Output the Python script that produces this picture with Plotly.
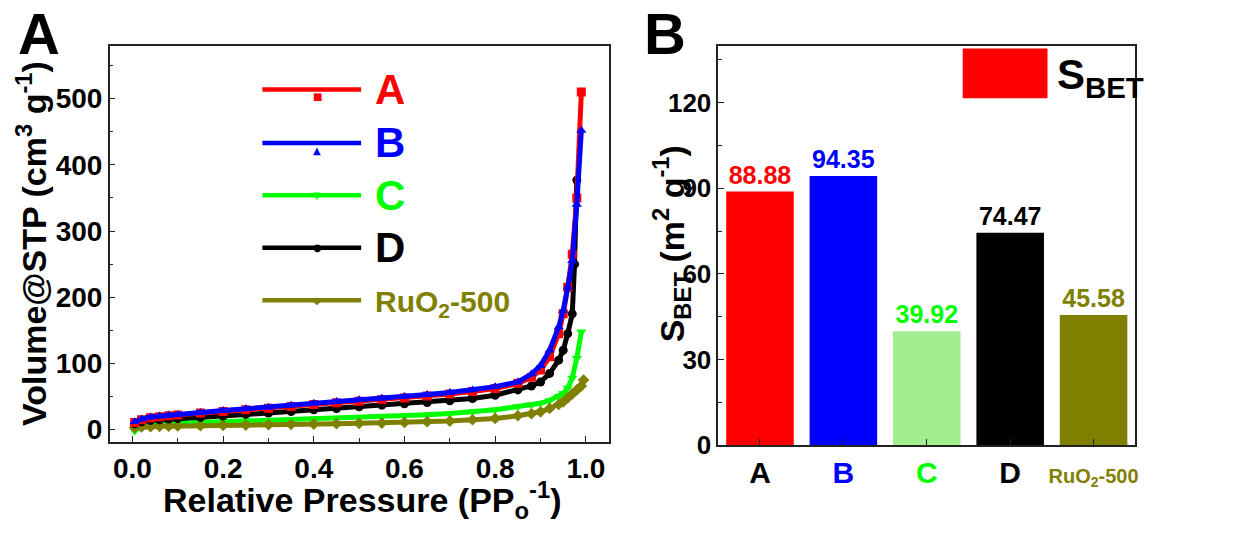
import plotly.graph_objects as go

W, H = 1256, 535
FONT = "Liberation Sans, Arial, sans-serif"
NARROW = "Liberation Sans Narrow, Arial Narrow, Liberation Sans, Arial, sans-serif"

# ---------------- data: N2 isotherms (panel A) ----------------
p_AB = [0.005, 0.02, 0.04, 0.06, 0.08, 0.10, 0.15, 0.20, 0.25, 0.30, 0.35, 0.40, 0.45, 0.50,
        0.55, 0.60, 0.65, 0.70, 0.75, 0.80, 0.85, 0.88, 0.90, 0.92, 0.94, 0.95, 0.96, 0.97,
        0.98, 0.99]
vol_A = [11, 15, 18, 19.5, 21, 22, 25, 27.5, 30, 32.5, 35, 38, 40.5, 43,
         45.5, 48, 51, 54, 57.5, 62, 70, 79, 90, 110, 145, 175, 215, 265,
         350, 510]
vol_B = [12, 16, 19, 20.5, 22, 23, 26, 29, 31.5, 34, 37, 40, 42.5, 45,
         47.5, 50, 53, 56, 60, 65, 72, 84, 97, 120, 155, 180, 215, 255,
         340, 452]
p_D = [0.005, 0.02, 0.04, 0.06, 0.08, 0.10, 0.15, 0.20, 0.25, 0.30, 0.35, 0.40, 0.45, 0.50,
       0.55, 0.60, 0.65, 0.70, 0.75, 0.80, 0.85, 0.88, 0.90, 0.92, 0.94, 0.95, 0.96, 0.97,
       0.975, 0.98]
vol_D = [9, 12, 14, 15, 16, 17, 18.5, 20.5, 23, 25, 27.5, 30, 32, 34.5,
         37, 39, 41, 43.5, 47, 52, 60, 66, 72, 85, 105, 120, 145, 175,
         250, 377]
p_C = [0.005, 0.02, 0.04, 0.06, 0.08, 0.10, 0.15, 0.20, 0.25, 0.30, 0.35, 0.40, 0.45, 0.50,
       0.55, 0.60, 0.65, 0.70, 0.75, 0.80, 0.85, 0.88, 0.90, 0.92, 0.94, 0.95, 0.96, 0.97,
       0.98, 0.99]
vol_C = [-2, 5, 7, 8, 9, 10, 11, 12, 13, 14, 15, 16, 17, 18,
         19.5, 20.5, 22.5, 24.5, 27, 30, 35, 38, 40, 44, 50, 55, 63, 78,
         108, 148]
p_R = [0.005, 0.02, 0.04, 0.06, 0.08, 0.10, 0.15, 0.20, 0.25, 0.30, 0.35, 0.40, 0.45, 0.50,
       0.55, 0.60, 0.65, 0.70, 0.75, 0.80, 0.85, 0.88, 0.90, 0.92, 0.94, 0.95, 0.96, 0.97,
       0.98, 0.99, 0.995]
vol_R = [3, 4, 4.5, 5, 5.2, 5.5, 6, 6.5, 7, 7.5, 8, 8.5, 9, 9.5,
         10, 11, 12, 13, 15, 17, 21, 24, 27, 32, 38, 42, 48, 54,
         60, 66, 75]

# ---------------- data: BET surface area (panel B) ----------------
samples = ["A", "B", "C", "D", "RuO2-500"]
sbet = [88.88, 94.35, 39.92, 74.47, 45.58]
sample_labels = ["A", "<span style='color:#0000FF'>B</span>", "<span style='color:#00FF00'>C</span>",
                 "D", "<span style='color:#808000;font-size:20px'>RuO<sub>2</sub>-500</span>"]
bar_colors = ["#FF0000", "#0000FF", "#A3EE8F", "#000000", "#808000"]
text_colors = ["#FF0000", "#0000FF", "#00FF00", "#000000", "#808000"]

series = [
    ("C", p_C, vol_C, "#00FF00", "triangle-down"),
    ("RuO2-500", p_R, vol_R, "#808000", "diamond"),
    ("D", p_D, vol_D, "#000000", "circle"),
    ("A", p_AB, vol_A, "#FF0000", "square"),
    ("B", p_AB, vol_B, "#0000FF", "triangle-up"),
]

fig = go.Figure()
for name, xs, ys, col, sym in series:
    fig.add_trace(go.Scatter(x=xs, y=ys, mode="lines+markers", name=name,
                             line=dict(color=col, width=5),
                             marker=dict(color=col, symbol=sym, size=9),
                             xaxis="x", yaxis="y", showlegend=False))

fig.add_trace(go.Bar(x=samples, y=sbet, marker=dict(color=bar_colors, line=dict(width=0)),
                     width=0.81, text=[f"{v:.2f}" for v in sbet], textposition="outside",
                     textfont=dict(color=text_colors, size=25, family=NARROW, weight="bold"),
                     cliponaxis=False, xaxis="x2", yaxis="y2", showlegend=False))

def common(size):
    return dict(showline=True, linecolor="#222", linewidth=1.5, mirror=True, showgrid=False,
                zeroline=False, ticks="inside", ticklen=6, tickwidth=1.3, tickcolor="#222",
                tickfont=dict(family=FONT, size=size, color="black", weight="bold"))

def px_x(x):
    return x / W

def px_y(y):
    return 1 - y / H

fig.update_layout(
    width=W, height=H, margin=dict(l=0, r=0, t=0, b=0), autosize=False,
    paper_bgcolor="white", plot_bgcolor="white",
    font=dict(family=FONT, color="black"),
    xaxis=dict(domain=[px_x(110), px_x(610)], range=[-0.05, 1.05], dtick=0.2, tick0=0,
               tickformat=".1f", anchor="y",
               minor=dict(dtick=0.1, ticks="inside", ticklen=4, tickcolor="#222"), **common(28)),
    yaxis=dict(domain=[px_y(455), px_y(47)], range=[-19, 580], dtick=100, tick0=0, anchor="x",
               minor=dict(dtick=50, ticks="inside", ticklen=4, tickcolor="#222"), **common(28)),
    xaxis2=dict(domain=[px_x(720), px_x(1138)], range=[-0.5, 4.5], anchor="y2",
                tickvals=samples, ticktext=sample_labels, **common(30)),
    yaxis2=dict(domain=[px_y(458), px_y(47)], range=[0, 140], dtick=30, tick0=0, anchor="x2",
                minor=dict(dtick=15, ticks="inside", ticklen=4, tickcolor="#222"), **common(26)),
)

ann = []
def add_text(text, x, y, size, color="black", angle=0, xanchor="center", yanchor="middle"):
    ann.append(dict(text=text, x=px_x(x), y=px_y(y), xref="paper", yref="paper",
                    showarrow=False, textangle=angle, xanchor=xanchor, yanchor=yanchor,
                    font=dict(family=FONT, size=size, color=color, weight="bold")))

# panel letters
add_text("A", 39, 34, 58)
add_text("B", 667, 34, 58)
# axis titles
add_text("Volume@STP (cm<sup>3</sup> g<sup>-1</sup>)", 32, 250, 34, angle=-90)
add_text("Relative Pressure (PP<sub>o</sub><sup>-1</sup>)", 363, 514, 34)
add_text("S<sub>BET</sub> (m<sup>2</sup> g<sup>-1</sup>)", 673, 251, 34, angle=-90)

# custom legend (panel A)
shapes = []
leg_rows = [("A", "#FF0000", "■", 92, 42), ("B", "#0000FF", "▲", 147, 42),
            ("C", "#00FF00", "▼", 201, 42), ("D", "#000000", "●", 255, 42),
            ("RuO<sub>2</sub>-500", "#808000", "◆", 309, 30)]
for lab, col, glyph, yy, fs in leg_rows:
    shapes.append(dict(type="line", xref="paper", yref="paper", x0=px_x(263), x1=px_x(362),
                       y0=px_y(yy), y1=px_y(yy), line=dict(color=col, width=4.5)))
    ann.append(dict(text=glyph, x=px_x(312), y=px_y(yy), xref="paper", yref="paper",
                    showarrow=False, font=dict(family="DejaVu Sans", size=10, color=col)))
    add_text(lab, 374, yy + (0 if fs > 35 else 3), fs, color=col, xanchor="left")

# legend panel B
shapes.append(dict(type="rect", xref="paper", yref="paper", x0=px_x(965), x1=px_x(1050),
                   y0=px_y(101), y1=px_y(50), fillcolor="#FF0000", line=dict(width=0)))
add_text("S<sub>BET</sub>", 1058, 80, 42, xanchor="left")

fig.update_layout(annotations=ann, shapes=shapes)
fig.write_html("out.html")
